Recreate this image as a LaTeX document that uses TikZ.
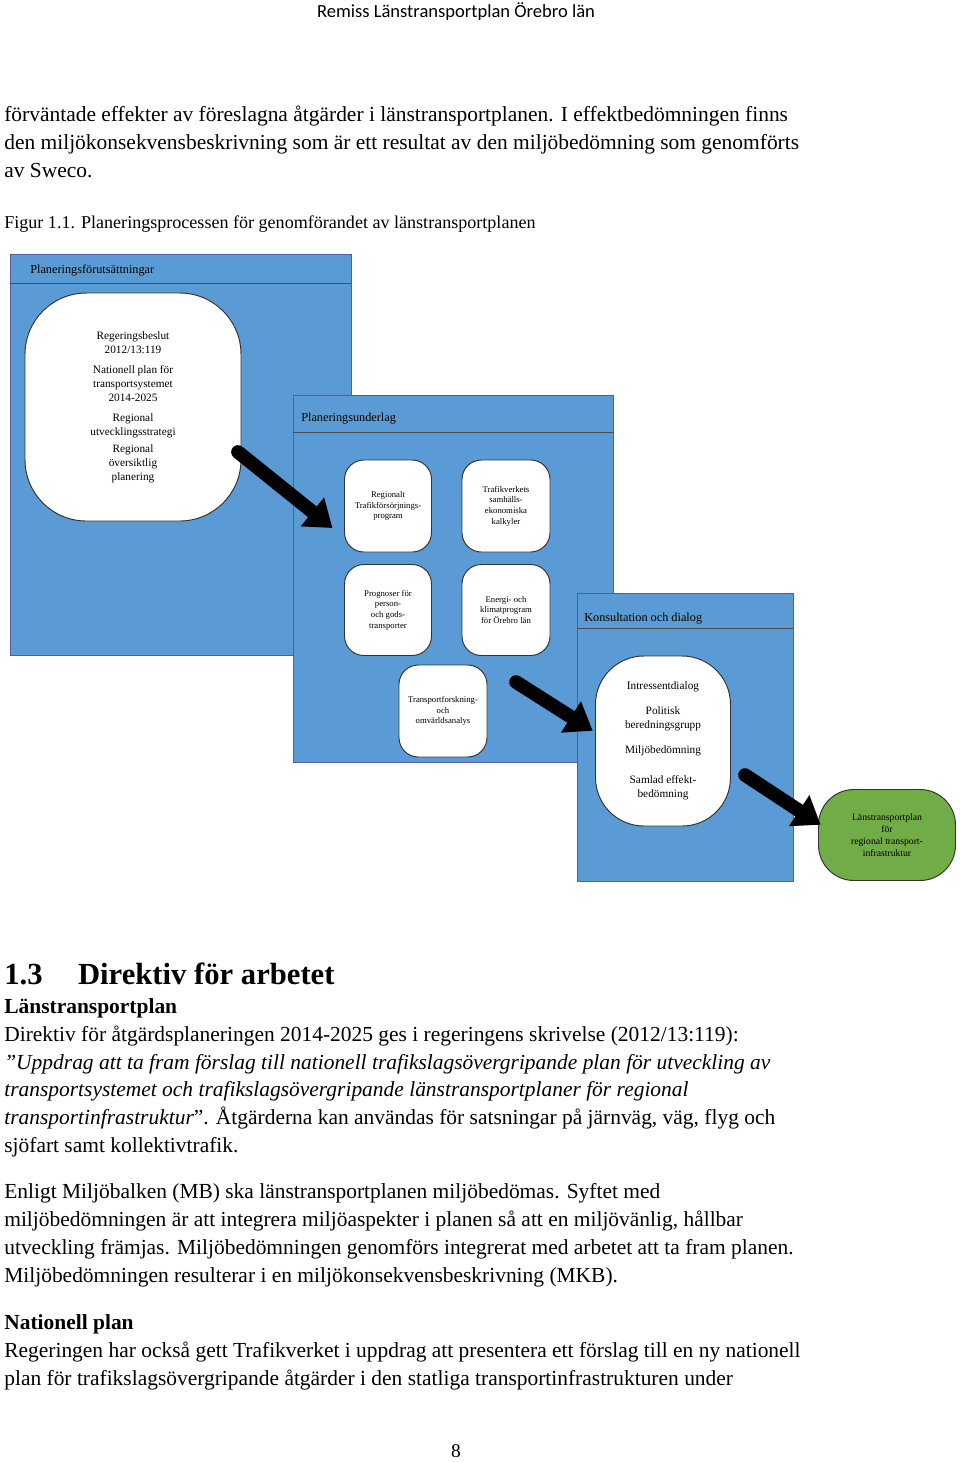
\documentclass[tikz,border=0pt]{standalone}
\usepackage{fontspec}
\setmainfont{Liberation Serif}
\newfontfamily\headfont{Carlito}
\usetikzlibrary{positioning,arrows.meta}
\definecolor{panelblue}{HTML}{5B9BD5}
\definecolor{planGreen}{HTML}{70AD47}
\begin{document}
\begin{tikzpicture}[x=0.62pt,y=-0.62pt,
  boxframe/.style={draw=gray!70!blue, fill=panelblue, line width=0.5pt},
  ovalnode/.style={draw=black!80, fill=white, line width=0.6pt, rounded corners=12pt, align=center, font=\fontsize{5.4}{6.6}\selectfont, inner sep=1pt},
  bigarrow/.style={line width=8.5pt, black, -{Triangle[length=16pt,width=22pt]}, line cap=round, shorten >=-2pt},
  bodytext/.style={anchor=base west, inner sep=0pt, font=\fontsize{13.3}{16}\selectfont},
  paneltitle/.style={anchor=base west, inner sep=0pt, font=\fontsize{7.6}{9}\selectfont}]

  \useasboundingbox (0,0) rectangle (960,1462);

  % Page header and text above the figure
  \node[inner sep=0pt, font=\headfont\fontsize{11.5}{13}\selectfont] (pagehead) at (456,12) {Remiss Länstransportplan Örebro län};
  \node[bodytext] (txt1) at (4,121) {förväntade effekter av föreslagna åtgärder i länstransportplanen. I effektbedömningen finns};
  \node[bodytext] (txt2) at (4,149) {den miljökonsekvensbeskrivning som är ett resultat av den miljöbedömning som genomförts};
  \node[bodytext] (txt3) at (4,177) {av Sweco.};
  \node[bodytext, font=\fontsize{11.2}{13}\selectfont] (caption) at (4,228) {Figur 1.1. Planeringsprocessen för genomförandet av länstransportplanen};

  % Planeringsförutsättningar
  \draw[boxframe] (10,254) rectangle (351,655);
  \draw[black!70] (10,283) -- (351,283);
  \node[paneltitle] (title1) at (30,273) {Planeringsförutsättningar};
  \node[ovalnode, minimum width=216*0.62pt, minimum height=228*0.62pt, rounded corners=38pt, font=\fontsize{7}{8.6}\selectfont] (forut) at (133,407)
    {Regeringsbeslut\\2012/13:119\\[4pt]Nationell plan för\\transportsystemet\\2014-2025\\[4pt]Regional\\utvecklingsstrategi\\[2pt]Regional\\översiktlig\\planering};

  % Planeringsunderlag
  \draw[boxframe] (293,395) rectangle (613,762);
  \draw[black!70] (293,432) -- (613,432);
  \node[paneltitle] (title2) at (301,421) {Planeringsunderlag};
  \node[ovalnode, minimum width=87*0.62pt, minimum height=92*0.62pt] (trafforsorj) at (388,506) {Regionalt\\Trafikförsörjnings-\\program};
  \node[ovalnode, minimum width=88*0.62pt, minimum height=92*0.62pt] (samhek) at (506,506) {Trafikverkets\\samhälls-\\ekonomiska\\kalkyler};
  \node[ovalnode, minimum width=87*0.62pt, minimum height=91*0.62pt] (prognos) at (388,610) {Prognoser för\\person-\\och gods-\\transporter};
  \node[ovalnode, minimum width=88*0.62pt, minimum height=91*0.62pt] (energi) at (506,610) {Energi- och\\klimatprogram\\för Örebro län};
  \node[ovalnode, minimum width=88*0.62pt, minimum height=92*0.62pt] (forskning) at (443,711) {Transportforskning-\\och\\omvärldsanalys};

  % Konsultation och dialog
  \draw[boxframe] (577,593) rectangle (793,881);
  \draw[black!70] (577,628) -- (793,628);
  \node[paneltitle] (title3) at (584,621) {Konsultation och dialog};
  \node[ovalnode, minimum width=135*0.62pt, minimum height=170*0.62pt, rounded corners=30pt, font=\fontsize{7}{8.6}\selectfont] (konsult) at (663,741)
    {Intressentdialog\\[7pt]Politisk\\beredningsgrupp\\[7pt]Miljöbedömning\\[10pt]Samlad effekt-\\bedömning};

  % Resultat
  \node[ovalnode, fill=planGreen, minimum width=137*0.62pt, minimum height=91*0.62pt, rounded corners=22pt, font=\fontsize{6}{7.4}\selectfont] (lanplan) at (887,835)
    {Länstransportplan\\för\\regional transport-\\infrastruktur};

  % Pilar
  \draw[bigarrow] (238,452) -- (330,526);
  \draw[bigarrow] (516,682) -- (590,729);
  \draw[bigarrow] (745,775) -- (818,823);

  % Text below the figure
  \node[bodytext, font=\bfseries\fontsize{19}{22}\selectfont] (sect) at (4,984) {1.3\hspace{22pt}Direktiv för arbetet};
  \node[bodytext, font=\bfseries\fontsize{13.3}{16}\selectfont] (sub1) at (4,1013) {Länstransportplan};
  \node[bodytext] (p1a) at (4,1041) {Direktiv för åtgärdsplaneringen 2014-2025 ges i regeringens skrivelse (2012/13:119):};
  \node[bodytext] (p1b) at (4,1069) {\itshape ”Uppdrag att ta fram förslag till nationell trafikslagsövergripande plan för utveckling av};
  \node[bodytext] (p1c) at (4,1096) {\itshape transportsystemet och trafikslagsövergripande länstransportplaner för regional};
  \node[bodytext] (p1d) at (4,1124) {\textit{transportinfrastruktur}”. Åtgärderna kan användas för satsningar på järnväg, väg, flyg och};
  \node[bodytext] (p1e) at (4,1152) {sjöfart samt kollektivtrafik.};
  \node[bodytext] (p2a) at (4,1198) {Enligt Miljöbalken (MB) ska länstransportplanen miljöbedömas. Syftet med};
  \node[bodytext] (p2b) at (4,1226) {miljöbedömningen är att integrera miljöaspekter i planen så att en miljövänlig, hållbar};
  \node[bodytext] (p2c) at (4,1254) {utveckling främjas. Miljöbedömningen genomförs integrerat med arbetet att ta fram planen.};
  \node[bodytext] (p2d) at (4,1282) {Miljöbedömningen resulterar i en miljökonsekvensbeskrivning (MKB).};
  \node[bodytext, font=\bfseries\fontsize{13.3}{16}\selectfont] (sub2) at (4,1329) {Nationell plan};
  \node[bodytext] (p3a) at (4,1357) {Regeringen har också gett Trafikverket i uppdrag att presentera ett förslag till en ny nationell};
  \node[bodytext] (p3b) at (4,1385) {plan för trafikslagsövergripande åtgärder i den statliga transportinfrastrukturen under};
  \node[inner sep=0pt, font=\fontsize{12}{14}\selectfont] (pagenum) at (456,1451) {8};
\end{tikzpicture}
\end{document}
